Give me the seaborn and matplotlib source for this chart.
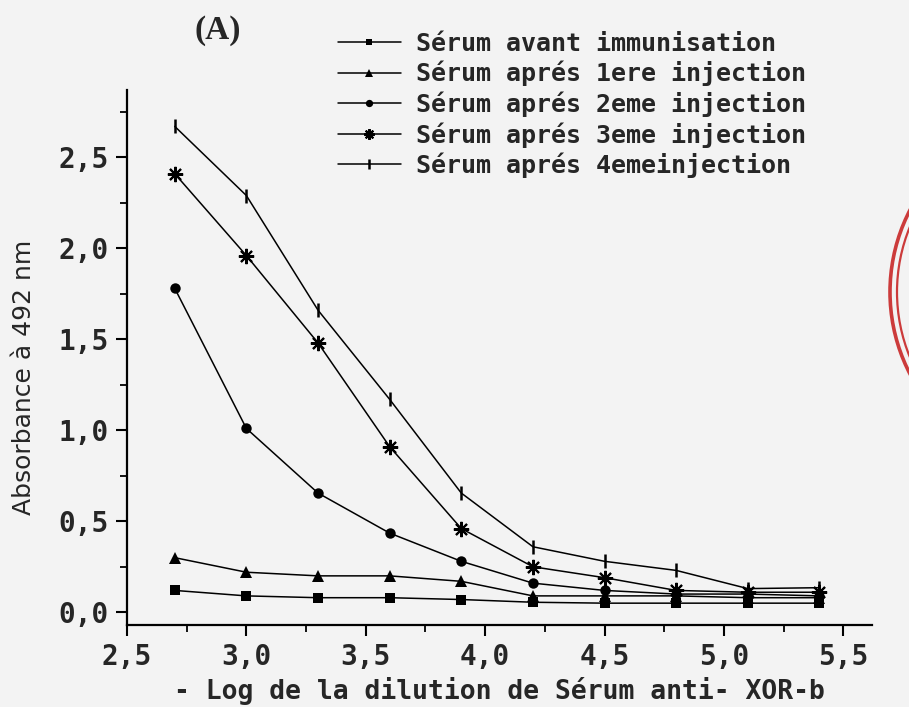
import matplotlib
matplotlib.use("Agg")
import matplotlib.pyplot as plt
import matplotlib.patches as mpatches
from matplotlib.ticker import FixedLocator, FixedFormatter, MultipleLocator
import seaborn as sns
import pandas as pd

# ---- data ----
log_dilution = [2.7, 3.0, 3.3, 3.6, 3.9, 4.2, 4.5, 4.8, 5.1, 5.4]
avant = [0.12, 0.09, 0.08, 0.08, 0.07, 0.055, 0.05, 0.05, 0.05, 0.05]
inj1 = [0.30, 0.22, 0.20, 0.20, 0.17, 0.09, 0.09, 0.09, 0.08, 0.08]
inj2 = [1.78, 1.01, 0.655, 0.435, 0.28, 0.16, 0.12, 0.10, 0.10, 0.09]
inj3 = [2.41, 1.96, 1.48, 0.91, 0.46, 0.25, 0.19, 0.12, 0.11, 0.11]
inj4 = [2.67, 2.29, 1.66, 1.17, 0.655, 0.36, 0.28, 0.23, 0.13, 0.135]

series_names = [
    "Sérum avant immunisation",
    "Sérum aprés 1ere injection",
    "Sérum aprés 2eme injection",
    "Sérum aprés 3eme injection",
    "Sérum aprés 4emeinjection",
]
x_ticks = [2.5, 3.0, 3.5, 4.0, 4.5, 5.0, 5.5]
x_tick_labels = ["2,5", "3,0", "3,5", "4,0", "4,5", "5,0", "5,5"]
y_ticks = [0.0, 0.5, 1.0, 1.5, 2.0, 2.5]
y_tick_labels = ["0,0", "0,5", "1,0", "1,5", "2,0", "2,5"]

BG = "#f3f3f3"
sns.set_style("ticks")
plt.rcParams["font.family"] = ["DejaVu Sans Mono", "DejaVu Sans"]

fig = plt.figure(figsize=(9.09, 7.07), dpi=100, facecolor=BG)
W, H = 909, 707
ax = fig.add_axes([127 / W, 1 - 625 / H, (872 - 127) / W, (625 - 90) / H])
ax.set_facecolor(BG)

styles = [
    dict(marker="s", markersize=7, markeredgewidth=0),
    dict(marker="^", markersize=9, markeredgewidth=0),
    dict(marker="o", markersize=7.5, markeredgewidth=0),
    dict(marker=(8, 2, 0), markersize=11, markeredgewidth=1.5),
    dict(marker="|", markersize=10, markeredgewidth=1.8),
]
all_series = [avant, inj1, inj2, inj3, inj4]
handles = []
for name, vals, st in zip(series_names, all_series, styles):
    df = pd.DataFrame({"x": log_dilution, "y": vals})
    sns.lineplot(data=df, x="x", y="y", ax=ax, color="black", linewidth=1.1,
                 markerfacecolor="black", markeredgecolor="black", **st)
    handles.append(ax.lines[-1])

ax.set_xlim(2.5, 5.62)
ax.set_ylim(-0.07, 2.87)
sns.despine(ax=ax)
for s in ("left", "bottom"):
    ax.spines[s].set_linewidth(1.6)
    ax.spines[s].set_color("black")

ax.xaxis.set_major_locator(FixedLocator(x_ticks))
ax.xaxis.set_major_formatter(FixedFormatter(x_tick_labels))
ax.xaxis.set_minor_locator(MultipleLocator(0.25))
ax.yaxis.set_major_locator(FixedLocator(y_ticks))
ax.yaxis.set_major_formatter(FixedFormatter(y_tick_labels))
ax.yaxis.set_minor_locator(MultipleLocator(0.25))
ax.tick_params(which="major", direction="out", length=8, width=1.5, color="black",
               labelsize=20, pad=5)
ax.tick_params(which="minor", direction="out", length=5, width=1.3, color="black")
for lab in ax.get_xticklabels() + ax.get_yticklabels():
    lab.set_fontweight("bold")

ax.set_xlabel("- Log de la dilution de Sérum anti- XOR-b", fontsize=19,
              fontweight="bold", labelpad=4)
ax.set_ylabel("Absorbance à 492 nm", fontsize=18, family="DejaVu Sans")
ax.yaxis.set_label_coords(-0.122, 0.462)

leg = fig.legend(handles, series_names, loc="upper left",
                 bbox_to_anchor=(338 / W, 1 - 32 / H), frameon=False,
                 prop=dict(family="DejaVu Sans Mono", weight="bold", size=18),
                 handlelength=2.5, handletextpad=0.6, labelspacing=0.2,
                 markerscale=0.7, borderaxespad=0, borderpad=0)

fig.text(218 / W, 1 - 30 / H, "(A)", fontsize=24, fontweight="bold",
         family="Liberation Serif", ha="center", va="center")

# red stamp edge at right border
for r, lw in ((178, 2.6), (171, 1.6)):
    fig.patches.append(mpatches.Circle((1068, H - 292), r, transform=None,
                                       fill=False, edgecolor="#cc3b3b",
                                       linewidth=lw, figure=fig))

fig.savefig("out.png", dpi=100, facecolor=BG)
